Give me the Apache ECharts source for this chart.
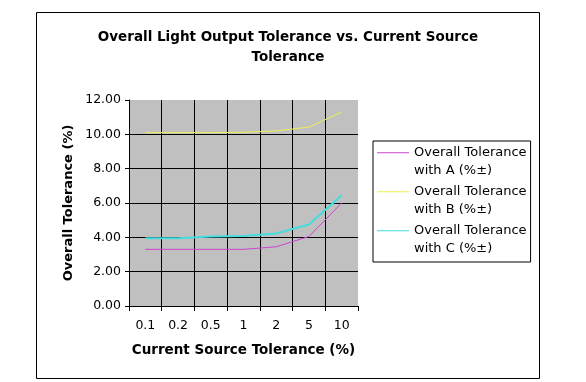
<!DOCTYPE html>
<html>
<head>
<meta charset="utf-8">
<script src="https://cdn.jsdelivr.net/npm/echarts@6/dist/echarts.min.js"></script>
<style>
html,body{margin:0;padding:0;background:#fff;}
#c{width:586px;height:382px;}
</style>
</head>
<body>
<div id="c"></div>
<script>
const categories = ['0.1', '0.2', '0.5', '1', '2', '5', '10'];
const seriesNames = ['Overall Tolerance\nwith A (%±)', 'Overall Tolerance\nwith B (%±)', 'Overall Tolerance\nwith C (%±)'];
const valuesA = [3.3, 3.3, 3.3, 3.3, 3.45, 4.05, 6.0];
const valuesB = [10.1, 10.1, 10.1, 10.12, 10.2, 10.42, 11.3];
const valuesC = [3.95, 3.95, 4.05, 4.08, 4.22, 4.75, 6.45];
const yTicks = [0, 2, 4, 6, 8, 10, 12];

const FONT = 'DejaVu Sans';
const chart = echarts.init(document.getElementById('c'), null, {renderer: 'canvas'});
const legendIcon = 'path://M0,0H0.01V0.01H0Z M0,8.25H32V9.25H0Z M0,34.99H0.01V35H0Z';

chart.setOption({
  animation: false,
  backgroundColor: '#ffffff',
  title: {
    text: 'Overall Light Output Tolerance vs. Current Source\nTolerance',
    left: 283, textAlign: 'center', top: 22,
    textStyle: {fontFamily: FONT, fontSize: 13.5, fontWeight: 'bold', color: '#000', lineHeight: 20}
  },
  graphic: [{
    type: 'rect', shape: {x: 36.5, y: 12.5, width: 503, height: 366},
    style: {fill: 'none', stroke: '#000', lineWidth: 1}, silent: true, z: -1
  }],
  legend: {
    orient: 'vertical', left: 373, top: 141,
    padding: [3, 4, 5, 4], itemGap: 4,
    itemWidth: 32, itemHeight: 35,
    icon: legendIcon,
    itemStyle: {borderWidth: 0},
    borderColor: '#000', borderWidth: 1,
    textStyle: {fontFamily: FONT, fontSize: 13, lineHeight: 17.5, color: '#000'},
    data: seriesNames
  },
  grid: {left: 129, right: 228, top: 100, bottom: 76, show: true, backgroundColor: '#c0c0c0', borderWidth: 0},
  xAxis: {
    type: 'category', data: categories, boundaryGap: true,
    axisLine: {lineStyle: {color: '#000', width: 1}},
    axisTick: {show: true, length: 5, lineStyle: {color: '#000'}},
    axisLabel: {fontFamily: FONT, fontSize: 12.5, color: '#000', margin: 13},
    splitLine: {show: true, showMinLine: false, showMaxLine: false, lineStyle: {color: '#000', width: 1}},
    name: 'Current Source Tolerance (%)', nameLocation: 'middle', nameGap: 37,
    nameTextStyle: {fontFamily: FONT, fontSize: 13.5, fontWeight: 'bold', color: '#000'}
  },
  yAxis: {
    type: 'value', min: yTicks[0], max: yTicks[yTicks.length - 1], interval: 2,
    axisLine: {show: true, lineStyle: {color: '#000', width: 1}},
    axisTick: {show: true, length: 4, lineStyle: {color: '#000'}},
    axisLabel: {fontFamily: FONT, fontSize: 12.5, color: '#000', margin: 8, formatter: v => v.toFixed(2)},
    splitLine: {show: true, showMinLine: false, showMaxLine: false, lineStyle: {color: '#000', width: 1}},
    name: 'Overall Tolerance (%)', nameLocation: 'middle', nameGap: 54, nameRotate: 90,
    nameTextStyle: {fontFamily: FONT, fontSize: 13, fontWeight: 'bold', color: '#000'}
  },
  series: [
    {name: seriesNames[0], type: 'line', data: valuesA, symbol: 'none', color: '#cc44cc', lineStyle: {width: 1, color: '#cc44cc'}},
    {name: seriesNames[1], type: 'line', data: valuesB, symbol: 'none', color: '#f0f050', lineStyle: {width: 1, color: '#f0f050'}},
    {name: seriesNames[2], type: 'line', data: valuesC, symbol: 'none', color: '#44dddd', lineStyle: {width: 2, color: '#44dddd'}}
  ]
});
</script>
</body>
</html>
